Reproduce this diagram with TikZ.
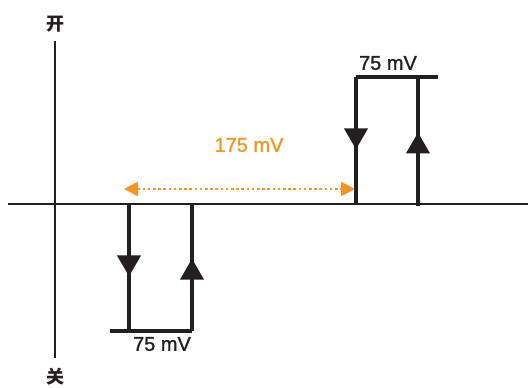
\documentclass[tikz,border=0pt]{standalone}
\usepackage{fontspec}
\setmainfont{Liberation Sans}
\newfontfamily\midfont{Liberation Sans}[FakeBold=1.2]
\newfontfamily\cjk{Noto Sans CJK SC}
\usetikzlibrary{arrows.meta,decorations.markings}
\definecolor{ink}{HTML}{231F20}
\definecolor{hint}{HTML}{F7941D}

\begin{document}
\begin{tikzpicture}[
  x=1pt, y=-1pt,
  axis/.style={draw=ink, line width=1.8pt},
  loop/.style={draw=ink, line width=4pt},
  flow/.style={postaction={decorate}, decoration={markings,
      mark=at position 0.57 with {\arrow{Triangle[width=23pt,length=21pt]}}}},
  val/.style={font=\midfont\fontsize{20}{22}\selectfont, text=ink, inner sep=0pt},
  cn/.style={font=\cjk\bfseries\fontsize{18}{20}\selectfont, text=ink, inner sep=0pt},
]
\useasboundingbox (0,0) rectangle (528,388);

% axes
\coordinate (xl) at (8,204);
\coordinate (xr) at (528,204);
\coordinate (yt) at (55,41);
\coordinate (yb) at (55,358);
\draw[axis] (xl) -- (xr);
\draw[axis] (yt) -- (yb);
\node[cn] (on)  at (55,24)  {开};
\node[cn] (off) at (55,377) {关};

% upper loop
\coordinate (u1) at (356,204);
\coordinate (u2) at (356,77);
\coordinate (u3) at (418,77);
\coordinate (u4) at (418,206);
\coordinate (ue) at (438,77);
\draw[loop] (u2) -- (ue);
\draw[loop, flow] (u2) -- (u1);
\draw[loop, flow] (u4) -- (u3);
\node[val] (uwidth) at (388,63) {75 mV};

% lower loop
\coordinate (l1) at (129,204);
\coordinate (l2) at (129,331);
\coordinate (l3) at (192,331);
\coordinate (l4) at (192,204);
\coordinate (le) at (110,331);
\draw[loop] (le) -- (l3);
\draw[loop, flow] (l1) -- (l2);
\draw[loop, flow] (l3) -- (l4);
\node[val] (lwidth) at (162,344) {75 mV};

% gap between the loops
\coordinate (gl) at (124,189);
\coordinate (gr) at (355,189);
\draw[hint, line width=2.6pt, dash pattern=on 2.6pt off 2.6pt,
      {Triangle[width=14pt,length=14pt]}-{Triangle[width=14pt,length=14pt]}] (gl) -- (gr);
\node[val, text=hint] (gap) at (249,145) {175 mV};
\end{tikzpicture}
\end{document}
